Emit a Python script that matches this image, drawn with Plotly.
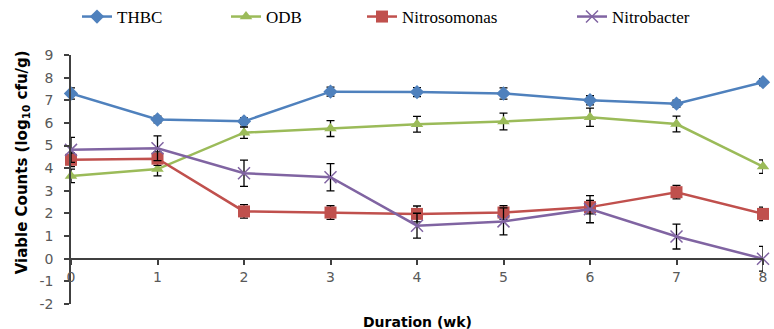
import plotly.graph_objects as go

weeks = [0, 1, 2, 3, 4, 5, 6, 7, 8]
tick_vals_x = [0, 1, 2, 3, 4, 5, 6, 7, 8]
tick_vals_y = [-2, -1, 0, 1, 2, 3, 4, 5, 6, 7, 8, 9]
tick_text_y = ["-2", "-1", "0", "1", "2", "3", "4", "5", "6", "7", "8", "9"]

thbc = [7.3, 6.15, 6.07, 7.38, 7.36, 7.3, 7.0, 6.85, 7.8]
thbc_err = [0.25, 0.15, 0.15, 0.2, 0.2, 0.25, 0.2, 0.15, 0.15]
odb = [3.66, 3.96, 5.57, 5.75, 5.94, 6.06, 6.25, 5.95, 4.07]
odb_err = [0.3, 0.3, 0.25, 0.35, 0.35, 0.37, 0.4, 0.35, 0.3]
nitroso = [4.37, 4.42, 2.09, 2.04, 1.98, 2.04, 2.28, 2.94, 1.98]
nitroso_err = [0.3, 0.3, 0.3, 0.3, 0.35, 0.3, 0.3, 0.3, 0.3]
nitrob = [4.81, 4.88, 3.78, 3.6, 1.46, 1.65, 2.19, 0.98, 0.0]
nitrob_err = [0.55, 0.55, 0.58, 0.6, 0.55, 0.6, 0.6, 0.55, 0.55]

series = [
    ("THBC", thbc, thbc_err, "#4F81BD", "diamond", 11, "legend"),
    ("ODB", odb, odb_err, "#9BBB59", "triangle-up", 11, "legend2"),
    ("Nitrosomonas", nitroso, nitroso_err, "#C0504D", "square", 12, "legend3"),
    ("Nitrobacter", nitrob, nitrob_err, "#8064A2", "x-thin-open", 12, "legend4"),
]

fig = go.Figure()
for name, vals, errs, col, sym, sz, leg in series:
    marker = dict(symbol=sym, size=sz, color=col)
    if sym == "x-thin-open":
        marker["line"] = dict(color=col, width=1.5)
    fig.add_trace(go.Scatter(
        x=weeks, y=vals, name=name, mode="lines+markers",
        line=dict(color=col, width=2.5),
        marker=marker,
        error_y=dict(type="data", array=errs, visible=True, color="#000000",
                     thickness=1.3, width=4),
        cliponaxis=False, legend=leg,
    ))

W, H = 774, 329
legend_font = dict(family="Liberation Serif", size=17, color="#000000")
text_starts = [117, 266, 402, 612]
for i, key in enumerate(["legend", "legend2", "legend3", "legend4"]):
    fig.update_layout(**{key: dict(
        x=(text_starts[i] - 40) / W, xref="container", xanchor="left",
        y=1 - 17 / H, yref="container", yanchor="middle",
        orientation="h", font=legend_font, bgcolor="rgba(0,0,0,0)",
        itemwidth=30,
    )})

axis_color = "#404040"
tick_font = dict(family="DejaVu Sans", size=14, color="#595959")
fig.update_layout(
    width=W, height=H,
    margin=dict(l=71, r=7, t=55, b=25),
    plot_bgcolor="white", paper_bgcolor="white",
    showlegend=True,
    xaxis=dict(range=[0, 8], tickvals=tick_vals_x, showgrid=False, zeroline=False,
               showline=True, linecolor=axis_color, linewidth=1.5,
               ticks="outside", ticklen=6, tickcolor=axis_color, tickwidth=1.5,
               anchor="free", position=2 / 11, tickfont=tick_font),
    yaxis=dict(range=[-2, 9], tickvals=tick_vals_y, ticktext=tick_text_y,
               showgrid=False, zeroline=False,
               showline=True, linecolor=axis_color, linewidth=1.5,
               ticks="outside", ticklen=5, tickcolor=axis_color, tickwidth=1.5,
               ticklabelstandoff=8, tickfont=tick_font),
    annotations=[
        dict(text="<b>Viable Counts (log<sub>10</sub> cfu/g)</b>", textangle=-90,
             xref="paper", yref="paper", x=(22 - 71) / 696, y=(304 - 162) / 249,
             xanchor="center", yanchor="middle", showarrow=False,
             font=dict(family="DejaVu Sans", size=15, color="#000000")),
        dict(text="<b>Duration (wk)</b>", xref="paper", yref="paper",
             x=(420 - 71) / 696, y=(304 - 322) / 249, xanchor="center", yanchor="middle",
             showarrow=False, font=dict(family="DejaVu Sans", size=14, color="#000000")),
    ],
)

fig.write_html("out.html", config={"displayModeBar": False},
               post_script="document.body.style.margin='0px';")
